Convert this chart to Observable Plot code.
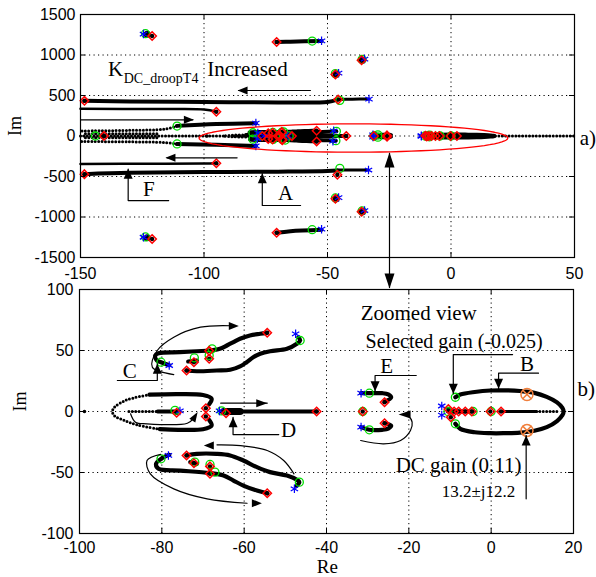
<!DOCTYPE html>
<html><head><meta charset="utf-8">
<script src="https://cdn.jsdelivr.net/npm/d3@7"></script>
<script src="https://cdn.jsdelivr.net/npm/@observablehq/plot@0.6"></script>
<style>
body{margin:0;background:#fff;}
#wrap{position:relative;width:596px;height:577px;overflow:hidden;background:#fff;}
#top,#bot{position:absolute;left:0;}
#top{top:0;z-index:2} #bot{top:280px;z-index:1}
</style></head><body><div id="wrap"><div id="bot"></div><div id="top"></div></div>
<script>
// ---------- axes ----------
const topXTicks = [-150,-100,-50,0,50];
const topYTicks = [-1500,-1000,-500,0,500,1000,1500];
const botXTicks = [-100,-80,-60,-40,-20,0,20];
const botYTicks = [-100,-50,0,50,100];

// ---------- near-origin root loci (shown in both panels) ----------
const locC1 = [[-78.2,38],[-80.2,40.4],[-81.2,41.8],[-81.6,45.9],[-80.8,47.8],[-75.6,48.6],[-71.5,49.4],[-68.3,50],[-65.9,51.4],[-64.2,54.1],[-62.6,56.8],[-61,59.6],[-58.6,62.3],[-56.1,63.7],[-54.5,64.5]];
const locC2 = [[-74,33.6],[-71.5,33],[-66.7,33.6],[-63.4,34.2],[-61,36.9],[-59.4,40.4],[-57.8,44.5],[-56.1,47.3],[-53.7,49.4],[-49.6,51.4],[-47.2,55.5],[-46.4,58.2],[-46.8,60.9]];
const locC3 = [[-73.6,41],[-71.5,41.8]];
const locC4 = [[-78.2,-35.5],[-80.2,-38.8],[-81.4,-42.9],[-80.8,-47],[-75.6,-48.4],[-68.3,-50.5],[-65,-52.5],[-62.6,-56.6],[-60.2,-60.7],[-56.9,-64.8],[-54.4,-67]];
const locC5 = [[-74,-36],[-71.5,-34.7],[-66.7,-34.7],[-63.4,-36],[-60.2,-40.2],[-56.9,-45.6],[-53.7,-49.7],[-49.6,-52.5],[-47.2,-56],[-46.6,-57.9],[-47.3,-61]];
const locC6 = [[-73.1,-41.5],[-71.5,-42.9]];
const locDloopU = [[-68.5,6],[-67.9,10.5],[-70,13.5],[-76,14.3],[-83,13.8]];
const locDloopL = [[-68.5,-7],[-67.9,-11.5],[-70,-14.5],[-76,-15],[-80.5,-14.5]];
const locDloopDots = [[-83,13.8],[-87,11],[-89.3,8.4],[-91.5,3.5],[-92,0],[-91.5,-3.5],[-89.3,-7],[-86,-11],[-80.5,-14.5]];
const locDinDots = [[-88,0],[-80,0]];
const locDin = [[-81,0],[-76.4,0]];
const locDright = [[-65.5,0],[-42.4,0]];
const locDblob = [[-65,0],[-61,0]];
const locE1 = [[-31.6,15],[-29.6,15],[-26.5,15],[-25,14],[-24.3,11.5],[-25.9,8]];
const locE2 = [[-31.6,-12.8],[-29.6,-15],[-26.5,-15],[-25,-14],[-24.3,-11.5],[-25.9,-9.6]];
const locB = [[-8.7,11.7],[-7.5,13.9],[-4,16],[-0.2,17.2],[4,17.3],[7,16.8],[10.5,15.3],[13.5,12],[16,7.5],[17.3,3],[17.6,0],[17.3,-3],[16,-7.8],[13.5,-12.8],[10.5,-15.8],[7,-17.3],[3,-17.8],[-0.2,-17.8],[-4,-17],[-7.5,-14.2],[-8.7,-10.1]];
const locBaxis1 = [[-10.5,0],[-4.5,0]];
const locBaxis2 = [[2.4,0],[11,0]];
const locBaxisDots = [[11,0],[16.5,0]];
const nearLoneDots = [[-98.8,0]];

const nearBlue = [[-78.2,37.7],[-47.5,63.7],[-78.4,-36],[-47.8,-63.4],[-75.6,0.5],[-66,0.5],[-31.6,15],[-31.6,-12.8],[-12,4.5],[-12,-3]];
const nearGreen = [[-80.2,40.4],[-72.1,44],[-67.8,51.4],[-68.5,46],[-46.4,58.2],[-80.2,-38.8],[-72,-41.5],[-68.3,-43.4],[-67.1,-49.7],[-46.6,-57.9],[-76.8,1],[-65.5,0.5],[-29.6,15],[-29.6,-15],[-31.2,0],[-8.7,11.7],[-8.7,-10.1],[-10.5,0],[-4.4,0],[0,0]];
const nearRed = [[-74,33.6],[-72.2,40.4],[-68.5,49.7],[-68.5,43.2],[-54.4,64.5],[-74,-36],[-72.2,-42.4],[-68.3,-45],[-68.3,-51],[-54.4,-67],[-76.4,-1],[-69.3,2.7],[-69.3,-4.1],[-64.4,-1.4],[-42.4,0],[-31.2,0],[-25.9,7.6],[-25.9,-9.6],[-10.4,2],[-9.8,-4.7],[-9,0],[-7.9,0],[-6.3,0],[-4.7,0],[-0.2,0],[2.4,0]];
const orangePoles = [[8.7,14],[8.7,-15.5]];

// ---------- far loci (top panel only) ----------
const farUpperLong = [[-148.4,434],[-130,425],[-100,420],[-70,415],[-50,420],[-46,448]];
const farUpperLongB = [[-46,452],[-40,455],[-33.2,456]];
const farUpperSecond = [[-150,335],[-120,332],[-100,328],[-95,300]];
const farUpperInner = [[-79,158],[-95,148],[-111,125]];
const farLowerInner = [[-79,-123],[-95,-108],[-111,-98]];
const farLowerSecond = [[-150,-345],[-120,-342],[-100,-340],[-95,-336]];
const farLowerLong = [[-148.4,-471],[-130,-455],[-100,-445],[-70,-440],[-50,-432],[-46,-425]];
const farLowerLongB = [[-46,-420],[-40,-420],[-33.4,-420]];
const farUpperHigh = [[-70.6,1160],[-65,1165],[-52.4,1172]];
const farLowerHigh = [[-70.6,-1195],[-65,-1175],[-52.4,-1157]];
const farDotsUI = [[-111,123],[-116,85],[-130,70],[-150,62]];
const farDotsLI = [[-111,-98],[-116,-80],[-130,-72],[-150,-68]];
const farDotsAxis = [[-150,0],[-92,0]];
const farDotsRowU = [[-148,28],[-118,28]];
const farDotsRowL = [[-148,-22],[-118,-22]];
const farDotsRight = [[18,0],[50,0]];
const farBlobs = [[-123,1255],[-123,-1255],[-46.5,765],[-46.5,-768],[-36,938],[-36,-932]];
const farBlue = [[-33.2,456],[-79,160],[-79,-123],[-33.4,-420],[-124.5,1258],[-124.5,-1250],[-52.4,1175],[-52.4,-1150],[-45.5,775],[-45.5,-760],[-35,950],[-35,-920]];
const farGreen = [[-45,440],[-110.9,123],[-110.9,-98],[-144,0],[-45,-400],[-123.7,1263],[-123.7,-1246],[-56.2,1172],[-56.2,-1157],[-46.8,770],[-46.8,-765],[-36,945],[-36,-925]];
const farRed = [[-148.4,434],[-95,300],[-140.5,0],[-95,-336],[-148.4,-471],[-45.7,451],[-46,-478],[-121,1234],[-121,-1271],[-70.6,1160],[-70.6,-1195],[-46.8,760],[-46.8,-775],[-36.2,935],[-36.2,-935]];

// ---------- annotations ----------
const zoomEllipse = [-39.5,-25,62.5,175]; // cx, cy, rx, ry (top panel)
const topLines = [
  [[-56.9,562],[-86,562]],
  [[-150,200],[-104.5,200]],
  [[-86.6,-269],[-115,-269]],
  [[-114.3,-797],[-130.7,-797],[-130.7,-410]],
  [[-60.9,-858],[-76.4,-858],[-76.4,-465]],
  [[-24.9,-215],[-24.9,-1870]]
];
const topHeads = [[-86.4,562,180,10,4],[-104.1,200,0,10,4],[-115.6,-269,180,10,4],[-130.7,-405,-90,10,4.5],[-76.4,-459,-90,10,4.5],[-24.9,-204,-90,15,5],[-24.9,-1883,90,15,5]];
const topTexts = [
  {x:-138.9,y:830,t:"K",s:21,a:"start"},
  {x:-132.5,y:706,t:"DC_droopT4",s:14,a:"start"},
  {x:-98.7,y:830,t:"Increased",s:21,a:"start"},
  {x:-122.3,y:-652,t:"F",s:21,a:"middle"},
  {x:-67,y:-706,t:"A",s:21,a:"middle"},
  {x:52.1,y:-22,t:"a)",s:21,a:"start"}
];
const botLines = [
  [[5.2,46.7],[-9.2,46.7],[-9.2,14.5]],
  [[11.5,31.4],[1.8,31.4],[1.8,18.6]],
  [[-18.2,29.5],[-28.2,29.5],[-28.2,16.6]],
  [[8.5,-71.6],[8.5,-19.7]],
  [[-90.8,25.4],[-81.1,25.4],[-81.1,39.1]],
  [[-51.6,-18.9],[-62.7,-18.9],[-62.7,-4.7]],
  [[-65.7,6.8],[-54.4,6.8]]
];
const botCurves = [
  [[-31.7,-23.8],[-26.1,-26.5],[-22,-23.8],[-19.6,-15.6],[-19.2,-8.7],[-20,-4.1],[-21.2,-2.7]],
  [[-77.1,30.3],[-82.3,36.3],[-81.1,50],[-77.1,60.9],[-70.6,69.1],[-63.3,70.3]],
  [[-80.3,-35.2],[-83.6,-40.2],[-82.8,-51.1],[-77.1,-63.4],[-69,-71.6],[-59.3,-75.2]],
  [[-47.9,-51.1],[-50.4,-40.2],[-54.4,-32],[-60.9,-27.9],[-66.6,-27.3]],
  [[-87.6,-1.9],[-86.4,-8.8],[-83.6,-10.1],[-73.8,-9.6],[-72.4,-6]]
];
const botHeads = [[-9.2,14.5,90,10,4.5],[1.8,18.6,90,10,4.5],[-28.2,16.6,90,10,4.5],[8.5,-19.7,-90,10,4.5],[-81.1,39.1,-90,10,4.5],[-62.7,-4.7,-90,10,4.5],[-54.4,6.8,0,11,4],
  [-22.5,-2.5,180,12,4],[-61.3,70.1,0,10,4],[-55.7,-75.2,0,10,4],[-69.8,-27.9,180,10,4],[-71.3,-0.5,-58,10,3.5]];
const botTexts = [
  {x:-31.7,y:80.3,t:"Zoomed view",s:21,a:"start"},
  {x:-30.5,y:57.3,t:"Selected gain (-0.025)",s:20,a:"start"},
  {x:8.7,y:39,t:"B",s:21,a:"middle"},
  {x:21,y:18.6,t:"b)",s:21,a:"start"},
  {x:-25.4,y:36.9,t:"E",s:21,a:"middle"},
  {x:-23.2,y:-44.3,t:"DC gain (0.11)",s:21,a:"start"},
  {x:-12,y:-65.3,t:"13.2±j12.2",s:17,a:"start"},
  {x:-87.8,y:33,t:"C",s:21,a:"middle"},
  {x:-49.2,y:-15.6,t:"D",s:21,a:"middle"}
];

// ---------- helpers ----------
const X = d => d[0], Y = d => d[1];
const SERIF = "Liberation Serif, Times New Roman, serif";
const thick = (pts, w=4) => Plot.line(pts, {x:X, y:Y, stroke:"black", strokeWidth:w, strokeLinecap:"round", strokeLinejoin:"round", curve:"catmull-rom"});
const dotted = (pts, w=3) => Plot.line(pts, {x:X, y:Y, stroke:"black", strokeWidth:w, strokeLinecap:"round", strokeDasharray:"0 3.4", curve:"catmull-rom"});
function headSymbol(deg, len, hw) {
  const t = deg*Math.PI/180, c = Math.cos(t), s = Math.sin(t);
  return {draw(ctx) {
    ctx.moveTo(0,0);
    ctx.lineTo(-len*c - hw*s, -len*s + hw*c);
    ctx.lineTo(-len*c + hw*s, -len*s - hw*c);
    ctx.closePath();
  }};
}
const heads = hs => hs.map(h => Plot.dot([h], {x:X, y:Y, r:5, symbol:headSymbol(h[2],h[3],h[4]), fill:"black", stroke:"none"}));
const annLines = ls => ls.map(l => Plot.line(l, {x:X, y:Y, stroke:"black", strokeWidth:1.2}));
const annCurves = ls => ls.map(l => Plot.line(l, {x:X, y:Y, stroke:"black", strokeWidth:1.2, curve:"catmull-rom"}));
const texts = ts => ts.map(o => Plot.text([o], {x:"x", y:"y", text:"t", fontSize:o.s, fontFamily:SERIF, textAnchor:o.a, fill:"black"}));
const markers = (blue, green, red, r=4) => [
  Plot.dot(red, {x:X, y:Y, r:2.2, fill:"black"}),
  Plot.dot(green, {x:X, y:Y, r, stroke:"#00dd00", strokeWidth:1.3, fill:"none"}),
  Plot.dot(blue, {x:X, y:Y, r, symbol:"asterisk", stroke:"#0000ff", strokeWidth:1.2}),
  Plot.dot(red, {x:X, y:Y, r:r*0.95, symbol:"diamond2", stroke:"#ff0000", strokeWidth:1.5, fill:"none"})
];
const nearLoci = (w) => [
  ...[locC1,locC2,locC3,locC4,locC5,locC6,locDloopU,locDloopL,locDin,locDright,locE1,locE2,locB,locBaxis1].map(p => thick(p, w)),
  thick(locBaxis2, 3), thick(locDblob, 7),
  ...[locDloopDots, locDinDots, locBaxisDots].map(p => dotted(p, 3)),
  Plot.dot(nearLoneDots, {x:X, y:Y, r:1.8, fill:"black"})
];
const frameMarks = (xt, yt, pw, ph) => [
  Plot.frame({stroke:"black", strokeWidth:1.2}),
  Plot.tickX(xt, {x:d=>d, insetTop:ph-5, stroke:"black"}),
  Plot.tickX(xt, {x:d=>d, insetBottom:ph-5, stroke:"black"}),
  Plot.tickY(yt, {y:d=>d, insetRight:pw-5, stroke:"black"}),
  Plot.tickY(yt, {y:d=>d, insetLeft:pw-5, stroke:"black"})
];
const grid = (xt, yt) => [
  Plot.ruleX(xt.slice(1,-1), {x:d=>d, stroke:"black", strokeWidth:1, strokeDasharray:"1.2 3.3"}),
  Plot.ruleY(yt.slice(1,-1), {y:d=>d, stroke:"black", strokeWidth:1, strokeDasharray:"1.2 3.3"})
];
const baseStyle = {background:"transparent", overflow:"visible", fontFamily:"Liberation Sans, Arial, sans-serif", fontSize:"16px", color:"black"};
const fmt = d => String(d);

// ellipse outline for the "zoomed" region
const [ecx, ecy, erx, ery] = zoomEllipse;
const ellipsePts = d3.range(0, 361, 4).map(a => [ecx + erx*Math.cos(a*Math.PI/180), ecy + ery*Math.sin(a*Math.PI/180)]);

// ---------- top panel ----------
const topPlot = Plot.plot({
  width:596, height:280, marginLeft:80, marginRight:22, marginTop:14, marginBottom:23,
  style:baseStyle,
  x:{domain:[-150,50], ticks:topXTicks, tickSize:0, tickPadding:10, label:null, tickFormat:fmt},
  y:{domain:[-1500,1500], ticks:topYTicks, tickSize:0, tickPadding:5, label:null, tickFormat:fmt},
  marks:[
    ...grid(topXTicks, topYTicks),
    ...[farUpperLong, farLowerLong, farUpperInner, farLowerInner, farUpperHigh, farLowerHigh].map(p => thick(p, 4)),
    ...[farUpperLongB, farLowerLongB].map(p => thick(p, 3)),
    ...[farUpperSecond, farLowerSecond].map(p => thick(p, 2.5)),
    ...[farDotsUI, farDotsLI, farDotsAxis, farDotsRowU, farDotsRowL, farDotsRight].map(p => dotted(p, 3)),
    ...nearLoci(4),
    Plot.dot(farBlobs, {x:X, y:Y, r:3.5, fill:"black"}),
    ...markers(farBlue, farGreen, farRed),
    ...markers(nearBlue, nearGreen, nearRed),
    Plot.line(ellipsePts, {x:X, y:Y, stroke:"#ff0000", strokeWidth:1.3}),
    ...frameMarks(topXTicks, topYTicks, 494, 243),
    Plot.text(["Im"], {text:d=>d, frameAnchor:"left", dx:-65, rotate:-90, fontSize:18, fontFamily:SERIF}),
    ...annLines(topLines),
    ...heads(topHeads),
    ...texts(topTexts)
  ]
});
document.getElementById("top").append(topPlot);

// ---------- bottom panel ----------
const botPlot = Plot.plot({
  width:596, height:297, marginLeft:79, marginRight:23, marginTop:9, marginBottom:44,
  style:baseStyle,
  x:{domain:[-100,20], ticks:botXTicks, tickSize:0, tickPadding:8, label:null, tickFormat:fmt},
  y:{domain:[-100,100], ticks:botYTicks, tickSize:0, tickPadding:6, label:null, tickFormat:fmt},
  marks:[
    ...grid(botXTicks, botYTicks),
    ...nearLoci(4.2),
    ...markers(nearBlue, nearGreen, nearRed),
    Plot.dot(orangePoles, {x:X, y:Y, r:6, stroke:"#f07f3c", strokeWidth:1.5, fill:"none"}),
    Plot.dot(orangePoles, {x:X, y:Y, r:4.2, symbol:"times", stroke:"#f07f3c", strokeWidth:1.5}),
    ...frameMarks(botXTicks, botYTicks, 494, 244),
    Plot.text(["Im"], {text:d=>d, frameAnchor:"left", dx:-59, rotate:-90, fontSize:18, fontFamily:SERIF}),
    Plot.text([{x:-39.8}], {x:"x", text:()=>"Re", frameAnchor:"bottom", dy:33, lineAnchor:"middle", fontSize:19, fontFamily:SERIF}),
    ...annLines(botLines),
    ...annCurves(botCurves),
    ...heads(botHeads),
    ...texts(botTexts)
  ]
});
document.getElementById("bot").append(botPlot);
</script></body></html>
